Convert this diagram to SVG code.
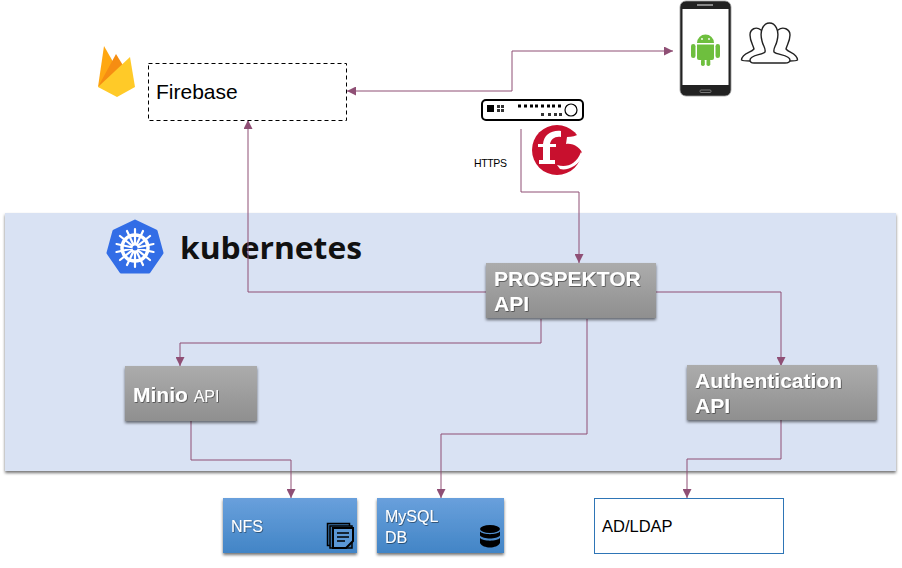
<svg xmlns="http://www.w3.org/2000/svg" width="902" height="568" viewBox="0 0 902 568">
<style>
text{font-family:"Liberation Sans",Arial,sans-serif}
.conn{fill:none;stroke:#8f4f75;stroke-width:1}
.grey{fill:url(#g);filter:url(#s)}
.blue{fill:url(#b);filter:url(#s)}
.gt{fill:#fff;font-weight:bold;font-size:21px;filter:url(#ts)}
.bt{fill:#fff;font-size:16px;filter:url(#ts)}
.bk{fill:#000;font-size:16.500px}
</style>
<defs>
<linearGradient id="g" x1="0" y1="0" x2="0" y2="1"><stop offset="0" stop-color="#acacac"/><stop offset="1" stop-color="#8f8f8f"/></linearGradient>
<linearGradient id="b" x1="0" y1="0" x2="0" y2="1"><stop offset="0" stop-color="#69a0dc"/><stop offset="1" stop-color="#4285c6"/></linearGradient>
<filter id="s" x="-10%" y="-15%" width="120%" height="135%"><feDropShadow dx="0" dy="2" stdDeviation="1.500" flood-color="#000" flood-opacity=".55"/></filter>
<filter id="ts" x="-10%" y="-20%" width="120%" height="150%"><feDropShadow dx=".7" dy=".7" stdDeviation=".4" flood-color="#000" flood-opacity=".6"/></filter>
<marker id="a" markerWidth="10" markerHeight="9" refX="9" refY="4.500" orient="auto-start-reverse" markerUnits="userSpaceOnUse"><path d="M0 0L9 4.500L0 9z" fill="#8f4f75"/></marker>
</defs>
<rect width="902" height="568" fill="#fff"/>
<g id="kubernetes">
<rect x="5" y="213" width="891" height="258" fill="#d9e2f3" filter="url(#s)"/>
<path d="M135 221L156 231L162 253L149 272H121L108 253L114 231Z" fill="#326de6" stroke="#326de6" stroke-width="3" stroke-linejoin="round"/>
<g fill="none" stroke="#fff" stroke-linecap="round">
<circle cx="135" cy="248" r="13" stroke-width="3.500"/>
<path d="M135 229V267M150 236L120 260M153.500 252L116.500 244M143 265L127 231M127 265L143 231M120 236L150 260M116.500 252L153.500 244" stroke-width="2.200"/>
</g>
<circle cx="135" cy="248" r="2.500" fill="#326de6"/>
<text x="180" y="259" font-size="31" font-weight="bold" style="font-family:'Open Sans',sans-serif" fill="#111" textLength="182" lengthAdjust="spacingAndGlyphs">kubernetes</text>
</g>
<g id="connectors">
<path class="conn" marker-start="url(#a)" marker-end="url(#a)" d="M347 91H512V51H673"/>
<path class="conn" marker-end="url(#a)" d="M521 129V192H579V263"/>
<path class="conn" marker-end="url(#a)" d="M486 292H248V120"/>
<path class="conn" marker-end="url(#a)" d="M656 292H781V366"/>
<path class="conn" marker-end="url(#a)" d="M541 319V343H180V366"/>
<path class="conn" marker-end="url(#a)" d="M587 319V434H441V498"/>
<path class="conn" marker-end="url(#a)" d="M191 421V460H291V498"/>
<path class="conn" marker-end="url(#a)" d="M781 420V459H687V498"/>
</g>
<g id="firebase">
<path d="M98 87L104 46L116 67Z" fill="#ffa712"/>
<path d="M98 87L116 54L124 67L110 82Z" fill="#f68d12"/>
<path d="M98 87L130 57L135 87L117 97Z" fill="#ffca28"/>
<rect x="148.500" y="63.500" width="198" height="57" fill="#fff" stroke="#000" stroke-dasharray="4 3"/>
<text x="156" y="98.500" font-size="21" fill="#000">Firebase</text>
</g>
<g id="phone">
<rect x="680" y="1" width="51" height="95" rx="6" fill="#222" stroke="#999" stroke-width=".8"/>
<rect x="682.500" y="9" width="46" height="76" fill="#fff"/>
<rect x="697" y="4" width="16" height="2" fill="#888"/>
<rect x="700" y="90" width="11" height="2.500" rx="1" fill="none" stroke="#777"/>
<g fill="#6ebf3e">
<path d="M697 43a8.500 8.500 0 0 1 17 0z"/>
<path d="M697 44.500H714V58a2 2 0 0 1-2 2H699a2 2 0 0 1-2-2z"/>
<rect x="691" y="44" width="4.500" height="14" rx="2.200"/>
<rect x="715.500" y="44" width="4.500" height="14" rx="2.200"/>
<rect x="701" y="59" width="3.800" height="7" rx="1.800"/>
<rect x="706.500" y="59" width="3.800" height="7" rx="1.800"/>
</g>
<circle cx="702" cy="39" r=".9" fill="#fff"/><circle cx="709" cy="39" r=".9" fill="#fff"/>
</g>
<g id="users" fill="none" stroke="#222" stroke-width="1.400" stroke-linejoin="round" stroke-linecap="round">
<path d="M761 30C756 26 750 29 750 35C750 41 753 45 754 49C751 53 742 53 741.500 60C743 61 746 61 750 61"/>
<path d="M778 30C783 26 790 29 790 35C790 41 787 45 786 49C789 53 797 53 797.500 60C796 61 793 61 790 61"/>
<path d="M762 41C759 30 764 23 769.500 23C775 23 780 30 777 41C776 46 773 48 774 52C777 55 790 55 790 60C790 62 788 63 785 63H754C751 63 750 62 750 60C750 55 762 55 765 52C766 48 763 46 762 41Z" fill="#fff"/>
</g>
<g id="router">
<rect x="482" y="100" width="101" height="20" rx="4" fill="#fff" stroke="#000" stroke-width="2"/>
<rect x="487" y="105" width="7" height="7" fill="#000"/>
<path d="M497 105h3v3h-3zM501 105h3v3h-3zM497 109h3v3h-3zM501 109h3v3h-3z" fill="#333"/>
<path d="M518 104.500h3v3h-3zM524 104.500h3v3h-3zM530 104.500h3v3h-3zM535 104.500h3v3h-3zM541 104.500h3v3h-3zM547 104.500h3v3h-3zM552 104.500h3v3h-3zM558 104.500h3v3h-3z" fill="#000"/>
<path d="M541 113h3v3h-3zM548 113h3v3h-3zM554 113h3v3h-3zM559 113h3v3h-3z" fill="#333"/>
<circle cx="571" cy="110" r="6" fill="#fff" stroke="#000" stroke-width="1.200"/>
</g>
<g id="f5">
<circle cx="557" cy="150" r="25" fill="#c8102e"/>
<path d="M570 127L584 132V157C581 147 573 143 566 144L567 137C572 137 576 136 579 134Z" fill="#fff"/>
<path d="M557 165C566 168 576 165 581 152L583 155C579 166 567 171 560 169Z" fill="#fff"/>
<path d="M561 131C551 130 544 135 543 144H538V147H543V160H539V164H555V160H550V147H556V144H550C551 139 555 136 561 137Z" fill="#fff"/>
</g>
<text id="https" x="474" y="167" font-size="10.500" fill="#000" textLength="33">HTTPS</text>
<g id="prospektor">
<rect class="grey" x="486" y="263" width="170" height="55"/>
<text class="gt" x="494" y="285.500">PROSPEKTOR</text>
<text class="gt" x="494" y="310.500">API</text>
</g>
<g id="minio">
<rect class="grey" x="125" y="366" width="132" height="55"/>
<text class="gt" x="133" y="402">Minio <tspan font-size="16" font-weight="normal">API</tspan></text>
</g>
<g id="auth">
<rect class="grey" x="687" y="365" width="190" height="55"/>
<text class="gt" x="695" y="388">Authentication</text>
<text class="gt" x="695" y="413">API</text>
</g>
<g id="nfs">
<rect class="blue" x="223" y="498" width="134" height="55"/>
<text class="bt" x="231" y="532">NFS</text>
<rect x="327.500" y="523.500" width="22" height="22" fill="#3a74ad" stroke="#000" stroke-width="1.500"/>
<rect x="330" y="526" width="22" height="22" fill="#3a74ad" stroke="#000" stroke-width="1.500"/>
<path d="M333 528H353V541L346 548H333Z" fill="#5b97d5" stroke="#000" stroke-width="2"/>
<path d="M337 533H349M337 537H349M337 541H345" stroke="#000" stroke-width="1.500"/>
</g>
<g id="mysql">
<rect class="blue" x="377" y="498" width="127" height="55"/>
<text class="bt" x="385" y="522">MySQL</text>
<text class="bt" x="385" y="543">DB</text>
<g fill="#000">
<ellipse cx="490" cy="529" rx="10" ry="4"/>
<path d="M480 531.500c3 3.500 17 3.500 20 0v4c-3 4-17 4-20 0z"/>
<path d="M480 538c3 3.500 17 3.500 20 0v5c-3 6-17 6-20 0z"/>
</g>
</g>
<g id="adldap">
<rect x="594.500" y="498.500" width="189" height="55" fill="#fff" stroke="#2e75b6"/>
<text class="bk" x="602" y="532">AD/LDAP</text>
</g>
</svg>
